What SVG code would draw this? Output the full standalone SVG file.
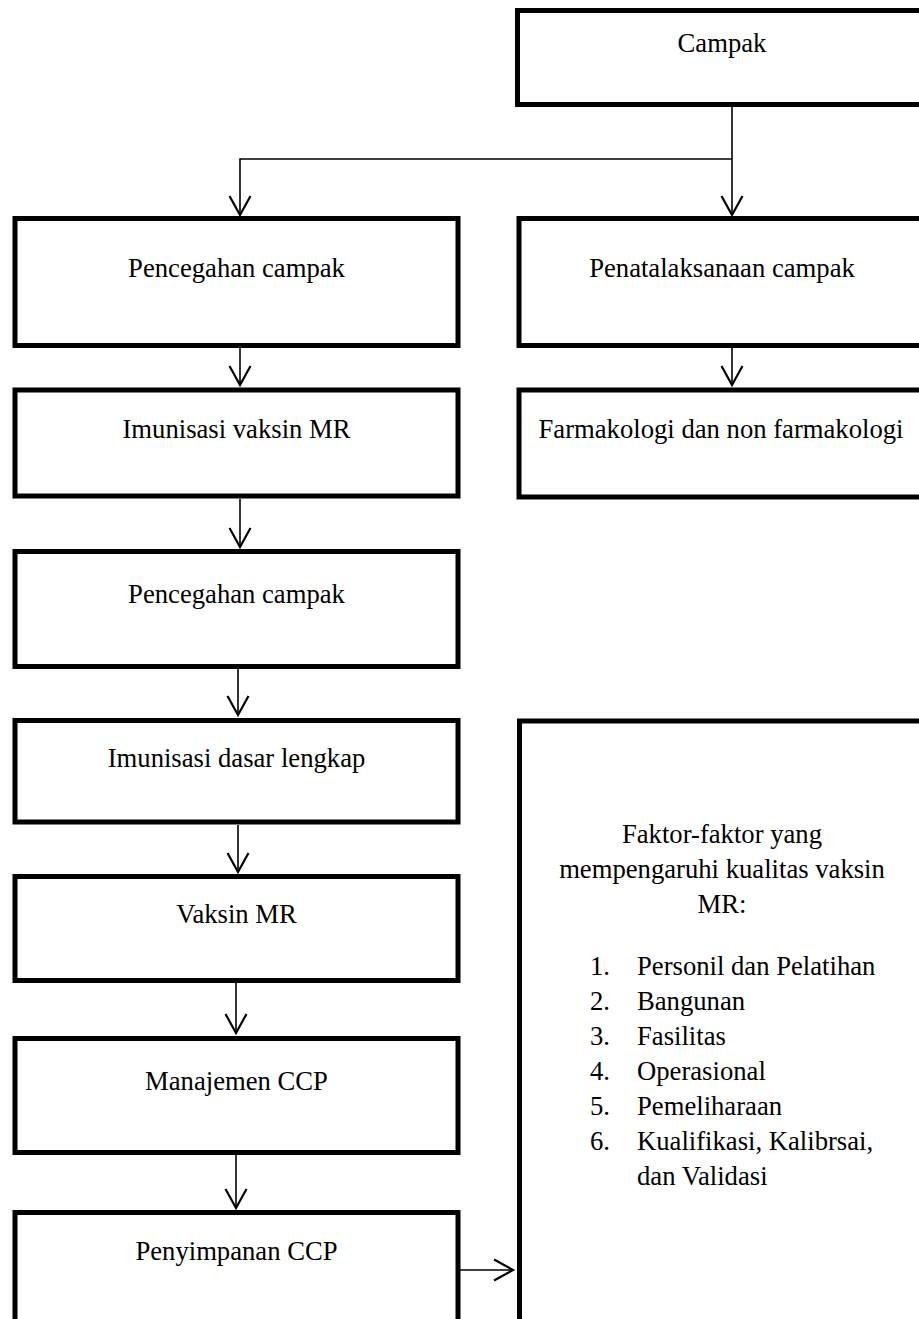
<svg xmlns="http://www.w3.org/2000/svg" width="919" height="1319" viewBox="0 0 919 1319">
<style>
.box{fill:#fff;stroke:#000;stroke-width:5}
.t{font-family:"Liberation Serif","Times New Roman",serif;font-size:26.67px;fill:#000}
.c{text-anchor:middle}
.con{fill:none;stroke:#000;stroke-width:1.6}
</style>
<defs>
<marker id="arr" markerUnits="userSpaceOnUse" orient="auto" refX="0" refY="0" markerWidth="24" markerHeight="26" viewBox="-21 -12 24 24" overflow="visible">
<path d="M -19 -10.5 L 0 0 L -19 10.5" fill="none" stroke="#000" stroke-width="2.2"/>
</marker>
</defs>
<rect width="919" height="1319" fill="#fff"/>
<g id="connectors">
<path class="con" d="M 732 106 L 732 215" marker-end="url(#arr)"/>
<path class="con" d="M 732 159 L 240 159 L 240 215" marker-end="url(#arr)"/>
<path class="con" d="M 732 348 L 732 385" marker-end="url(#arr)"/>
<path class="con" d="M 240 348 L 240 385" marker-end="url(#arr)"/>
<path class="con" d="M 240 499 L 240 547" marker-end="url(#arr)"/>
<path class="con" d="M 238 669 L 238 715" marker-end="url(#arr)"/>
<path class="con" d="M 238 825 L 238 872" marker-end="url(#arr)"/>
<path class="con" d="M 236 983 L 236 1033" marker-end="url(#arr)"/>
<path class="con" d="M 236 1155 L 236 1208" marker-end="url(#arr)"/>
<path class="con" d="M 460 1270 L 513 1270" marker-end="url(#arr)"/>
</g>
<g id="n-campak">
<rect class="box" x="517.5" y="10.5" width="420" height="94"/>
<text class="t c" x="722" y="52">Campak</text>
</g>
<g id="n-pencegahan1">
<rect class="box" x="15" y="218.5" width="443" height="127"/>
<text class="t c" x="236.5" y="277">Pencegahan campak</text>
</g>
<g id="n-penatalaksanaan">
<rect class="box" x="519" y="218.5" width="420" height="127"/>
<text class="t c" x="722" y="277">Penatalaksanaan campak</text>
</g>
<g id="n-imunisasi-mr">
<rect class="box" x="15" y="390" width="443" height="106"/>
<text class="t c" x="236.5" y="438">Imunisasi vaksin MR</text>
</g>
<g id="n-farmakologi">
<rect class="box" x="519" y="390" width="420" height="107"/>
<text class="t c" x="721" y="438">Farmakologi dan non farmakologi</text>
</g>
<g id="n-pencegahan2">
<rect class="box" x="15" y="551.5" width="443" height="115"/>
<text class="t c" x="236.5" y="603">Pencegahan campak</text>
</g>
<g id="n-imunisasi-dasar">
<rect class="box" x="15" y="720.5" width="443" height="101.5"/>
<text class="t c" x="236.5" y="767">Imunisasi dasar lengkap</text>
</g>
<g id="n-vaksin-mr">
<rect class="box" x="15" y="876.5" width="443" height="104"/>
<text class="t c" x="236.5" y="923">Vaksin MR</text>
</g>
<g id="n-manajemen">
<rect class="box" x="15" y="1038.5" width="443" height="114"/>
<text class="t c" x="236.5" y="1090">Manajemen CCP</text>
</g>
<g id="n-penyimpanan">
<rect class="box" x="15" y="1212.5" width="443" height="140"/>
<text class="t c" x="236.5" y="1260">Penyimpanan CCP</text>
</g>
<g id="n-faktor">
<rect class="box" x="519.5" y="721" width="430" height="640"/>
<text class="t c" x="722" y="843">Faktor-faktor yang</text>
<text class="t c" x="722" y="878">mempengaruhi kualitas vaksin</text>
<text class="t c" x="722" y="913">MR:</text>
<text class="t" x="590" y="975">1.</text><text class="t" x="637" y="975">Personil dan Pelatihan</text>
<text class="t" x="590" y="1010">2.</text><text class="t" x="637" y="1010">Bangunan</text>
<text class="t" x="590" y="1045">3.</text><text class="t" x="637" y="1045">Fasilitas</text>
<text class="t" x="590" y="1080">4.</text><text class="t" x="637" y="1080">Operasional</text>
<text class="t" x="590" y="1115">5.</text><text class="t" x="637" y="1115">Pemeliharaan</text>
<text class="t" x="590" y="1150">6.</text><text class="t" x="637" y="1150">Kualifikasi, Kalibrsai,</text>
<text class="t" x="637" y="1185">dan Validasi</text>
</g>
</svg>
